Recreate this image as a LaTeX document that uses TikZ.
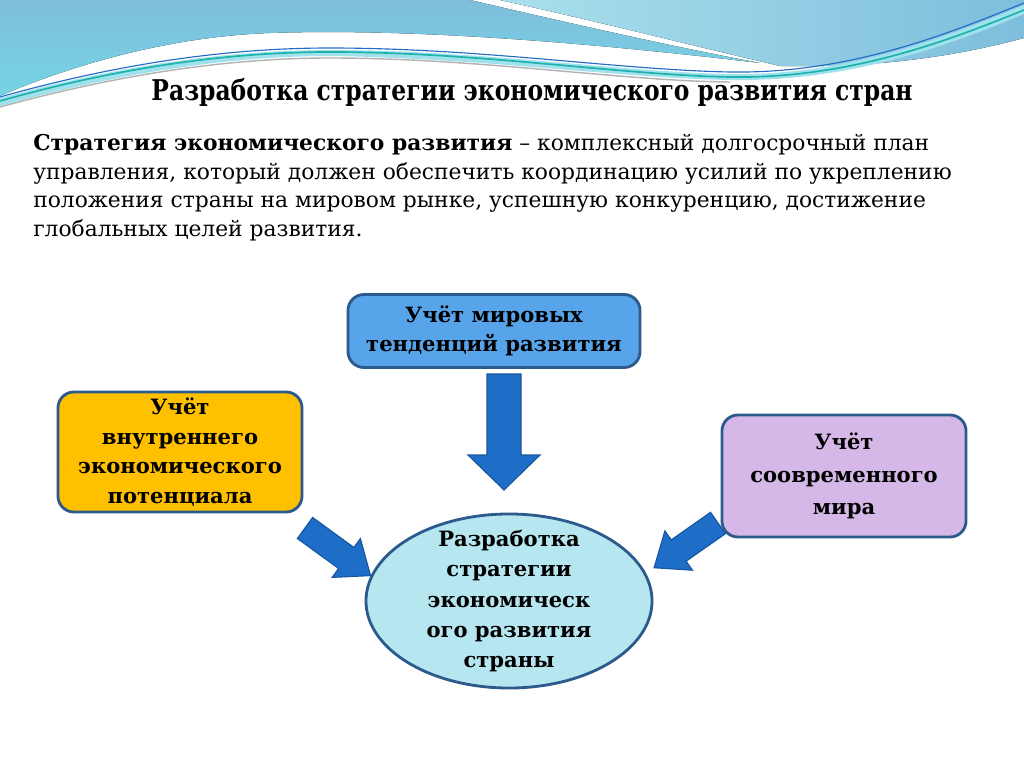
\documentclass[tikz,border=0pt]{standalone}
\usepackage{fontspec}
\setmainfont{DejaVu Serif}
\newfontfamily\titlefont[FakeStretch=0.82]{DejaVu Serif}
\usetikzlibrary{positioning,shapes.geometric}

\definecolor{boxline}{RGB}{44,90,140}
\definecolor{topfill}{RGB}{88,164,234}
\definecolor{leftfill}{RGB}{255,192,0}
\definecolor{rightfill}{RGB}{214,184,232}
\definecolor{ovalfill}{RGB}{182,230,240}
\definecolor{arrfill}{RGB}{30,110,200}
\definecolor{arrline}{RGB}{25,85,160}
\definecolor{wavedark}{RGB}{126,190,220}
\definecolor{wavecyan}{RGB}{118,212,230}
\definecolor{wavelight}{RGB}{170,224,236}
\definecolor{waveteal}{RGB}{30,178,170}
\definecolor{waveblue}{RGB}{35,105,200}

\begin{document}
\begin{tikzpicture}[x=0.025cm,y=-0.025cm,
    factor/.style={draw=boxline, line width=2pt, rounded corners=0.4cm,
      align=center, font=\bfseries\fontsize{15}{21}\selectfont},
    goal/.style={ellipse, draw=boxline, line width=2pt, fill=ovalfill,
      inner sep=0pt, minimum width=7.15cm, minimum height=4.35cm},
    blockarr/.style={fill=arrfill, draw=arrline, line width=0.8pt}]
  \useasboundingbox (0,0) rectangle (1024,767);
  \fill[white] (0,0) rectangle (1024,767);

  % waves at the top
  \fill[top color=wavedark, bottom color=wavecyan]
    (0,0) -- (470,0) .. controls (590,28) and (680,48) .. (760,63)
    .. controls (600,44) and (420,28) .. (270,33)
    .. controls (160,37) and (60,70) .. (0,96) -- cycle;
  \fill[left color=wavelight, right color=wavedark]
    (500,0) -- (1024,0) -- (1024,38) .. controls (950,58) and (870,68) .. (780,66)
    .. controls (690,45) and (600,22) .. (500,0) -- cycle;
  \fill[wavecyan!70]
    (0,98) .. controls (110,68) and (220,50) .. (330,50)
    .. controls (480,50) and (620,72) .. (730,74)
    .. controls (850,76) and (950,35) .. (1024,5) -- (1024,14)
    .. controls (950,45) and (850,82) .. (730,80)
    .. controls (620,78) and (480,58) .. (330,56)
    .. controls (220,56) and (110,76) .. (0,106) -- cycle;
  \draw[waveblue, line width=0.8pt]
    (0,97) .. controls (110,66) and (220,48) .. (330,48)
    .. controls (480,48) and (620,70) .. (730,72)
    .. controls (850,74) and (950,33) .. (1024,3);
  \draw[waveteal, line width=1.2pt]
    (0,101) .. controls (110,70) and (220,52) .. (330,52)
    .. controls (480,52) and (620,75) .. (730,77)
    .. controls (850,79) and (950,40) .. (1024,10);
  \draw[gray!60, line width=1pt]
    (0,107) .. controls (110,77) and (220,58) .. (330,58)
    .. controls (480,58) and (620,81) .. (730,82);

  \node[font=\titlefont\bfseries\fontsize{20.3}{24}\selectfont] (title) at (532,92)
    {Разработка стратегии экономического развития стран};
  \node[anchor=north west, inner sep=0pt, align=left,
    font=\fontsize{15.5}{20.3}\selectfont] (def) at (33,134)
    {\textbf{Стратегия экономического развития} – комплексный долгосрочный план\\
     управления, который должен обеспечить координацию усилий по укреплению\\
     положения страны на мировом рынке, успешную конкуренцию, достижение\\
     глобальных целей развития.};

  % block arrows
  \begin{scope}[shift={(504,374)}, rotate=-90]
    \draw[blockarr] (0,-17) -- (81,-17) -- (81,-36) -- (116,0) -- (81,36)
      -- (81,17) -- (0,17) -- cycle;
  \end{scope}
  \begin{scope}[shift={(305,528)}, rotate=-36]
    \draw[blockarr] (0,-13) -- (51,-13) -- (51,-24) -- (81,0) -- (51,24)
      -- (51,13) -- (0,13) -- cycle;
  \end{scope}
  \begin{scope}[shift={(718,523)}, rotate=-145]
    \draw[blockarr] (0,-13) -- (48,-13) -- (48,-24) -- (78,0) -- (48,24)
      -- (48,13) -- (0,13) -- cycle;
  \end{scope}

  \node[factor, fill=topfill, minimum width=7.3cm, minimum height=1.825cm]
    (world) at (494,331) {Учёт мировых\\тенденций развития};
  \node[factor, fill=leftfill, minimum width=6.1cm, minimum height=3cm]
    (inner) at (180,452) {Учёт\\внутреннего\\экономического\\потенциала};
  \node[factor, fill=rightfill, minimum width=6.1cm, minimum height=3.05cm,
    font=\bfseries\fontsize{15}{23}\selectfont]
    (modern) at (844,476) {Учёт\\соовременного\\мира};
  \node[goal, label={[align=center, font=\bfseries\fontsize{15}{21.5}\selectfont]center:
    Разработка\\стратегии\\экономическ\\ого развития\\страны}]
    (strategy) at (509,601) {};
\end{tikzpicture}
\end{document}
